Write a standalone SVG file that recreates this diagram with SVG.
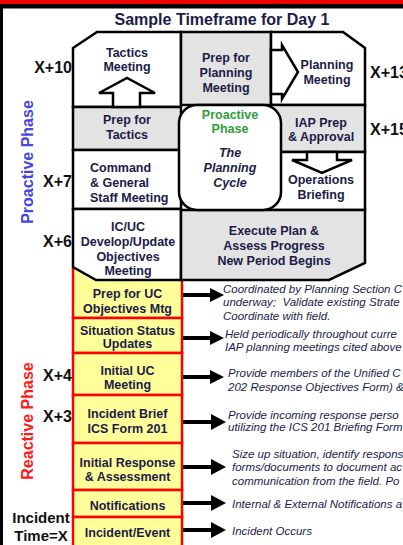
<svg xmlns="http://www.w3.org/2000/svg" width="403" height="545" viewBox="0 0 403 545">
<defs>
<style>
.k{stroke:#000;stroke-width:2.5;stroke-linejoin:miter}
.w{fill:#fff}
.g{fill:#e3e3e3}
.y{fill:#ffff99;stroke:#ff0000;stroke-width:2.5}
.t{font-family:"Liberation Sans",Arial,sans-serif;font-weight:bold;font-size:12.5px;fill:#1b1b48;text-anchor:middle}
.ts{font-family:"Liberation Sans",Arial,sans-serif;font-weight:bold;font-size:12.5px;fill:#1b1b48}
.ti{font-family:"Liberation Sans",Arial,sans-serif;font-weight:bold;font-style:italic;font-size:12.5px;fill:#1b1b48;text-anchor:middle}
.x{font-family:"Liberation Sans",Arial,sans-serif;font-weight:bold;font-size:16px;fill:#111}
.d{font-family:"Liberation Sans",Arial,sans-serif;font-style:italic;font-size:11.5px;fill:#1b1b48;white-space:pre}
.ar{fill:#000}
</style>
</defs>
<rect x="0" y="0" width="403" height="545" fill="#fff"/>
<rect x="0" y="0" width="403" height="4.5" fill="#ee0000"/>
<rect x="0" y="4" width="403" height="4.5" fill="#000"/>
<rect x="0" y="4" width="3" height="541" fill="#000"/>
<text class="x" x="222" y="25" text-anchor="middle" style="fill:#1b1b48">Sample Timeframe for Day 1</text>

<g id="labels">
<text class="x" x="72" y="73" text-anchor="end">X+10</text>
<text class="x" x="370" y="78">X+13</text>
<text class="x" x="370" y="135">X+15</text>
<text class="x" x="72" y="187" text-anchor="end">X+7</text>
<text class="x" x="72" y="247" text-anchor="end">X+6</text>
<text class="x" x="72" y="381" text-anchor="end">X+4</text>
<text class="x" x="72" y="422" text-anchor="end">X+3</text>
<text class="x" x="41" y="523" text-anchor="middle" style="font-size:15px">Incident</text>
<text class="x" x="41" y="541" text-anchor="middle" style="font-size:15px">Time=X</text>
<text class="x" transform="translate(33,162) rotate(-90)" text-anchor="middle" style="fill:#4646e0">Proactive Phase</text>
<text class="x" transform="translate(33,421) rotate(-90)" text-anchor="middle" style="fill:#ff1a1a">Reactive Phase</text>
</g>

<g id="yellow-boxes">
<rect class="y" x="73" y="268" width="109" height="50"/>
<rect class="y" x="73" y="318" width="109" height="35"/>
<rect class="y" x="73" y="353" width="109" height="42"/>
<rect class="y" x="73" y="395" width="109" height="48"/>
<rect class="y" x="73" y="443" width="109" height="47"/>
<rect class="y" x="73" y="490" width="109" height="27"/>
<rect class="y" x="73" y="517" width="109" height="32"/>
</g>

<g id="tactics-meeting">
<polygon class="k w" points="73,48 97,32 181,32 181,107 73,107"/>
<text class="t" x="127" y="56.5">Tactics</text>
<text class="t" x="127" y="71">Meeting</text>
</g>
<g id="prep-for-tactics">
<rect class="k g" x="73" y="107" width="108" height="43"/>
<text class="t" x="127" y="124">Prep for</text>
<text class="t" x="127" y="139">Tactics</text>
</g>
<g id="command-general">
<rect class="k w" x="73" y="150" width="108" height="59"/>
<text class="ts" x="90" y="172">Command</text>
<text class="ts" x="90" y="187">&amp; General</text>
<text class="ts" x="90" y="202">Staff Meeting</text>
</g>
<g id="icuc-objectives">
<polygon class="k w" points="73,209 181,209 181,280 96,280 73,267"/>
<text class="t" x="128" y="231">IC/UC</text>
<text class="t" x="128" y="246">Develop/Update</text>
<text class="t" x="128" y="261">Objectives</text>
<text class="t" x="128" y="275">Meeting</text>
</g>
<g id="prep-for-planning">
<rect class="k g" x="181" y="32" width="90" height="73"/>
<text class="t" x="226" y="62">Prep for</text>
<text class="t" x="226" y="77">Planning</text>
<text class="t" x="226" y="92">Meeting</text>
</g>
<g id="planning-meeting">
<polygon class="k w" points="271,32 343,32 365,48 365,105 271,105"/>
<text class="t" x="327" y="69">Planning</text>
<text class="t" x="327" y="84">Meeting</text>
</g>
<g id="iap-prep">
<rect class="k g" x="271" y="105" width="94" height="47"/>
<text class="t" x="321" y="127">IAP Prep</text>
<text class="t" x="321" y="141">&amp; Approval</text>
</g>
<g id="operations-briefing">
<rect class="k w" x="271" y="152" width="94" height="58"/>
<text class="t" x="321" y="184">Operations</text>
<text class="t" x="321" y="199">Briefing</text>
</g>
<g id="execute-plan">
<polygon class="k g" points="181,210 365,210 365,263 329,280 181,280"/>
<text class="t" x="274" y="235">Execute Plan &amp;</text>
<text class="t" x="274" y="250">Assess Progress</text>
<text class="t" x="274" y="265">New Period Begins</text>
</g>
<rect x="182" y="106.5" width="20" height="20" class="g"/>
<rect x="258" y="106.5" width="22" height="20" class="g"/>
<g id="planning-cycle">
<rect class="k w" x="179" y="105" width="102" height="105" rx="18" ry="18"/>
<text class="t" x="230" y="119" style="fill:#2e9e3a">Proactive</text>
<text class="t" x="230" y="133" style="fill:#2e9e3a">Phase</text>
<text class="ti" x="230" y="157">The</text>
<text class="ti" x="230" y="172">Planning</text>
<text class="ti" x="230" y="187">Cycle</text>
</g>

<g id="connectors">
<polygon class="k w" points="113,107 113,93 99,93 127,78 155,93 140,93 140,107"/>
<polygon class="k w" points="271,50 282,50 282,45 298,72 282,99 282,94 271,94"/>
<polygon class="k w" points="307,152 307,160 292,160 322,173 352,160 337,160 337,152"/>
<g id="arrows">
<g><rect class="ar" x="183" y="293" width="29" height="4"/><polygon class="ar" points="210,288 224,295 210,302"/></g>
<g><rect class="ar" x="183" y="336" width="29" height="4"/><polygon class="ar" points="210,331 224,338 210,345"/></g>
<g><rect class="ar" x="183" y="375" width="29" height="4"/><polygon class="ar" points="210,370 224,377 210,384"/></g>
<g><rect class="ar" x="183" y="420" width="30" height="4"/><polygon class="ar" points="211,414 226,422 211,430"/></g>
<g><rect class="ar" x="183" y="465" width="30" height="4"/><polygon class="ar" points="211,459 226,467 211,475"/></g>
<g><rect class="ar" x="183" y="501" width="30" height="4"/><polygon class="ar" points="211,495 226,503 211,511"/></g>
<g><rect class="ar" x="183" y="528" width="30" height="4"/><polygon class="ar" points="211,522 226,530 211,538"/></g>
</g>
</g>

<g id="yellow-labels">
<text class="t" x="127.5" y="298">Prep for UC</text>
<text class="t" x="127.5" y="313">Objectives Mtg</text>
<text class="t" x="127.5" y="335">Situation Status</text>
<text class="t" x="127.5" y="348">Updates</text>
<text class="t" x="127.5" y="375">Initial UC</text>
<text class="t" x="127.5" y="389">Meeting</text>
<text class="t" x="127.5" y="418">Incident Brief</text>
<text class="t" x="127.5" y="433">ICS Form 201</text>
<text class="t" x="127.5" y="467">Initial Response</text>
<text class="t" x="127.5" y="481">&amp; Assessment</text>
<text class="t" x="127.5" y="510">Notifications</text>
<text class="t" x="127.5" y="537">Incident/Event</text>
</g>

<g id="descriptions">
<text class="d" x="223" y="293">Coordinated by Planning Section C</text>
<text class="d" x="223" y="306">underway;  Validate existing Strate</text>
<text class="d" x="223" y="320">Coordinate with field.</text>
<text class="d" x="225" y="338">Held periodically throughout curre</text>
<text class="d" x="225" y="351">IAP planning meetings cited above</text>
<text class="d" x="228" y="377">Provide members of the Unified C</text>
<text class="d" x="228" y="391">202 Response Objectives Form) &amp;</text>
<text class="d" x="228" y="419">Provide incoming response perso</text>
<text class="d" x="228" y="431">utilizing the ICS 201 Briefing Form</text>
<text class="d" x="232" y="458">Size up situation, identify respons</text>
<text class="d" x="232" y="471">forms/documents to document ac</text>
<text class="d" x="232" y="485">communication from the field. Po</text>
<text class="d" x="232" y="508">Internal &amp; External Notifications a</text>
<text class="d" x="232" y="535">Incident Occurs</text>
</g>
</svg>
